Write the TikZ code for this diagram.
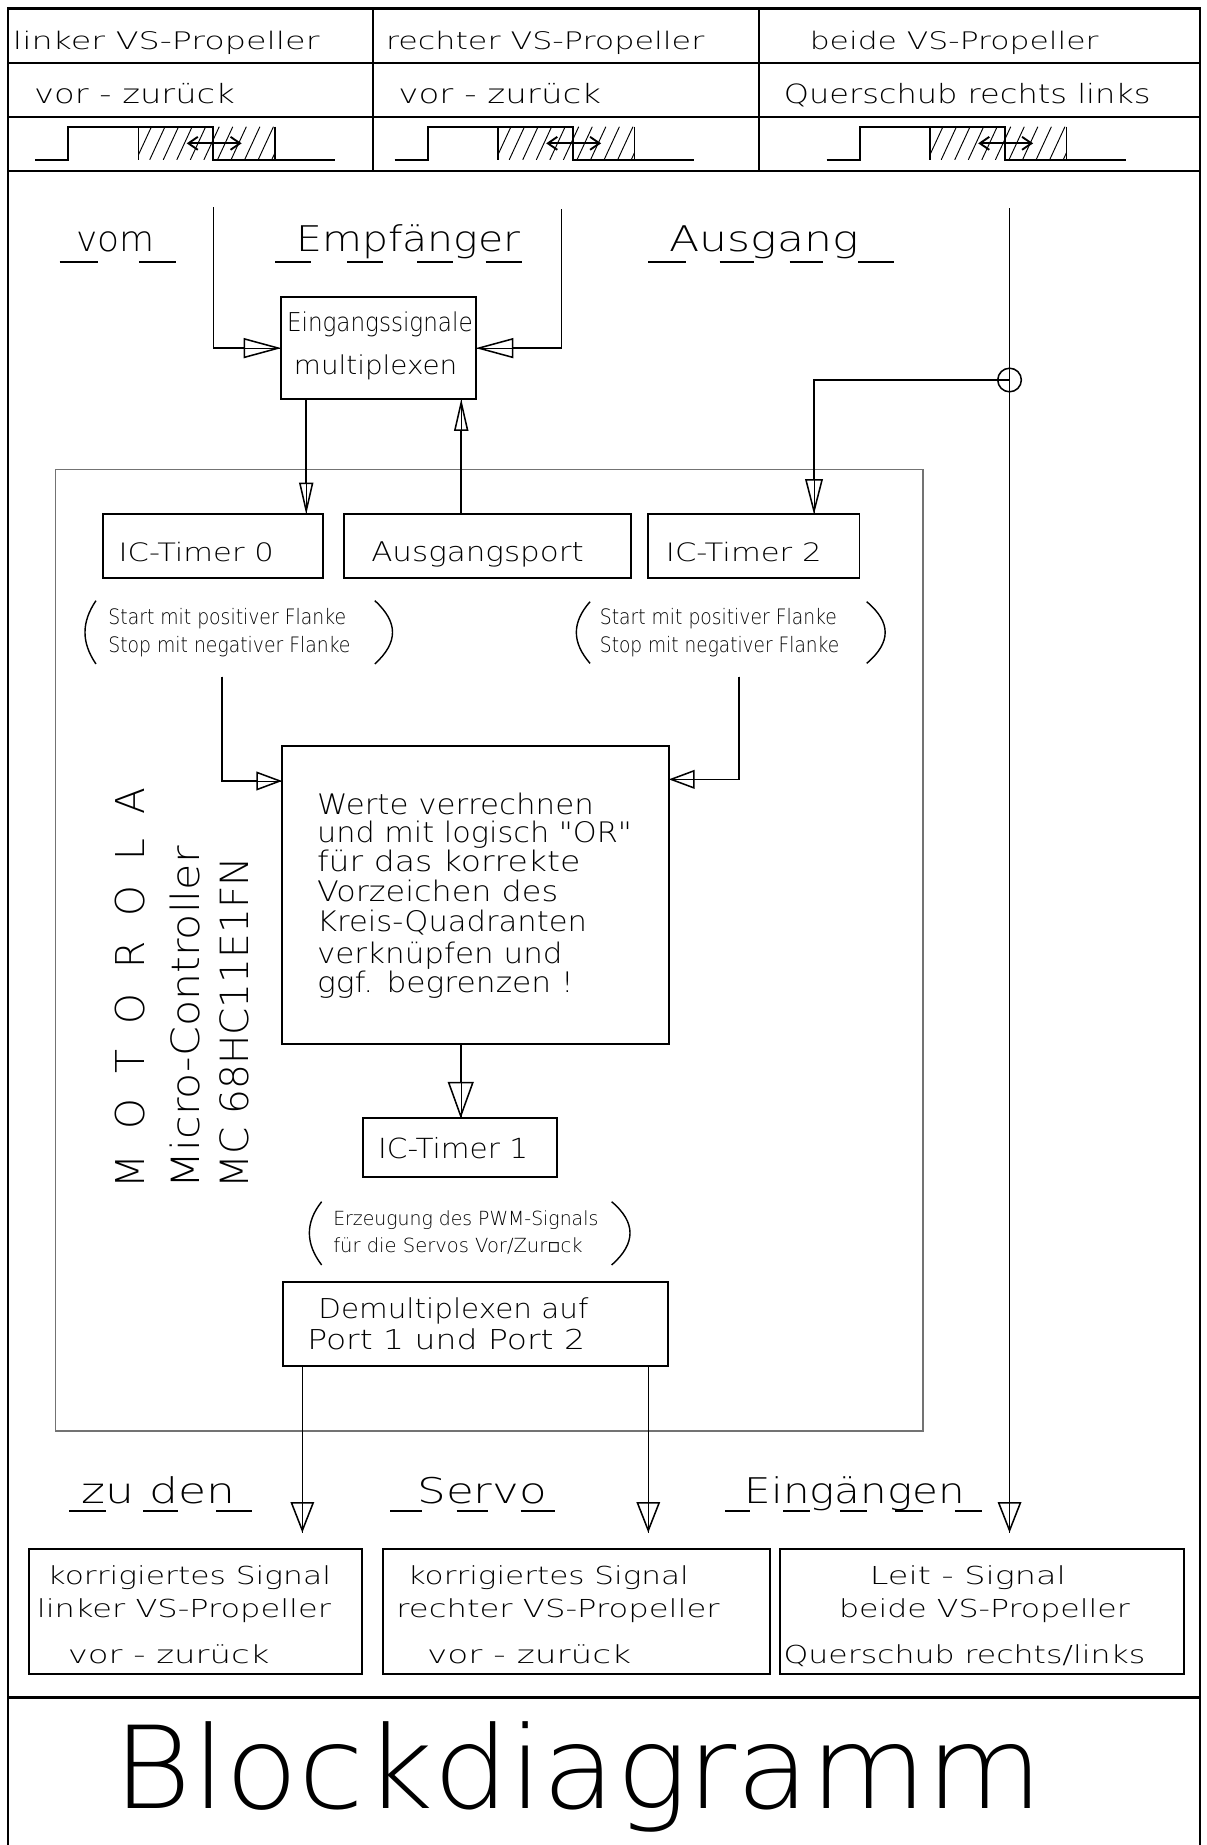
\documentclass[tikz,border=0pt]{standalone}
\usepackage{fontspec}
\usepackage{graphicx}
\usetikzlibrary{arrows.meta,calc}
\IfFontExistsTF{DejaVuSans-ExtraLight.ttf}{\newfontfamily\cad{DejaVuSans-ExtraLight.ttf}}{\newfontfamily\cad{DejaVu Sans}}
\newfontfamily\dvs{DejaVu Sans}
\newcommand\fitw[3]{\resizebox{#1pt}{\height}{\cad\fontsize{#2pt}{#2pt}\selectfont #3}}
\newcommand\tl[6]{\pgfmathsetmacro\tlw{#4-#2}\node[lbl] (#1) at (#2,#3) {\fitw{\tlw}{#5}{#6}};}
\tikzset{
  lbl/.style={anchor=base west, inner sep=0pt, outer sep=0pt},
  frame/.style={line width=2pt},
  box/.style={draw, rectangle, line width=1.6pt, inner sep=0pt, outer sep=0pt},
  conn/.style={line width=1.3pt},
  ul/.style={line width=1.5pt},
  paren/.style={line width=1.2pt},
  hatch/.style={line width=0.8pt},
  pulse/.style={line width=1.8pt},
  darr/.style={line width=1.6pt, {Straight Barb[length=8pt,width=11pt]}-{Straight Barb[length=8pt,width=11pt]}},
  arrA/.style={conn, preaction={draw, arrows=-}, -{Triangle[open, length=32pt, width=17pt]}},
  arrB/.style={conn, preaction={draw, arrows=-}, -{Triangle[open, length=27pt, width=12pt]}},
  arrC/.style={conn, preaction={draw, arrows=-}, -{Triangle[open, length=22pt, width=16pt]}},
  arrT/.style={conn, preaction={draw, arrows=-}, -{Triangle[open, length=30pt, width=15pt]}},
  arrD/.style={conn, preaction={draw, arrows=-}, -{Triangle[open, length=31pt, width=22pt]}},
  arrE/.style={conn, preaction={draw, arrows=-}, -{Triangle[open, length=26pt, width=20pt]}},
}
\begin{document}
\begin{tikzpicture}[x=1pt, y=-1pt]
\useasboundingbox (0,0) rectangle (1024,1565.3);
\fill[white] (0,0) rectangle (1024,1565.3);

% ---------- frame and header table ----------
\draw[frame] (7,1566) -- (7,7.3) -- (1018,7.3) -- (1018,1566);
\draw[frame] (7,53.2) -- (1018,53.2);
\draw[frame] (7,99) -- (1018,99);
\draw[frame] (7,145.3) -- (1018,145.3);
\draw[frame] (7,1440) -- (1018,1440);
\draw[frame] (316.7,7.3) -- (316.7,145.3);
\draw[frame] (644,7.3) -- (644,145.3);

\tl{h1a}{11}{42}{271}{20.5}{linker VS-Propeller}
\tl{h1b}{327.5}{42}{597.5}{20.5}{rechter VS-Propeller}
\tl{h1c}{687}{42}{932}{20.5}{beide VS-Propeller}
\tl{h2a}{29}{88}{199.2}{22.5}{vor - zurück}
\tl{h2b}{338}{88}{510}{22.5}{vor - zurück}
\tl{h2c}{665}{88}{976.2}{22.5}{Querschub rechts links}

% signal pictograms
\foreach \dx in {0,305,671.5}{
  \begin{scope}[xshift=\dx pt]
    \begin{scope}
      \clip (117.4,107.5) rectangle (233.3,135.6);
      \foreach \k in {0,...,11}{\draw[hatch] (104+\k*11.5,135.6) -- ++(13,-28.1);}
    \end{scope}
    \draw[line width=1.1pt] (117.4,107.5) -- (117.4,135.6);
    \draw[line width=1.1pt] (233.3,107.5) -- (233.3,135.6);
    \draw[pulse] (29.7,135.6) -- (58,135.6) -- (58,107.5) -- (181,107.5) -- (181,135.6) -- (284.2,135.6);
    \draw[darr] (158.4,121.6) -- (205,121.6);
  \end{scope}
}

% ---------- labels with underline segments ----------
\tl{lvom}{65}{213.5}{131.5}{30}{vom}
\tl{lemp}{251.6}{213.5}{441.6}{30}{Empfänger}
\tl{laus}{567.8}{213}{728.5}{30}{Ausgang}
\foreach \a/\b in {50.6/83.5,117.9/149.2,233.7/264,294.4/324.7,354/384,412/442.6,550/581.7,610.5/640,670/698,728/758.7}
  {\draw[ul] (\a,222) -- (\b,222);}
\tl{lzu}{69.3}{1275.5}{199.4}{30}{zu den}
\tl{lser}{354}{1275.5}{464}{30}{Servo}
\tl{lein}{632}{1275.5}{818.7}{30}{Eingängen}
\foreach \a/\b in {58.8/90,121.6/151.3,183.3/214,331/357.7,387.4/414,441.7/470.9,615.1/636.1,664.6/687.2,712.7/735.3,759.4/783.3,810.2/832.8}
  {\draw[ul] (\a,1281.6) -- (\b,1281.6);}

% ---------- micro-controller frame ----------
\node[draw=black!55, line width=1pt, rectangle, inner sep=0pt, minimum width=736pt, minimum height=815.8pt] (mcu) at (415,806.1) {};
\node[lbl, rotate=90] (moto) at (123,1008) {\fitw{340}{33.7}{M\ \ O\ \ T\ \ O\ \ R\ \ O\ \ L\ \ A}};
\node[lbl, rotate=90] (mcname) at (169,1008) {\fitw{290}{33}{Micro-Controller}};
\node[lbl, rotate=90] (mctype) at (211,1008) {\fitw{281}{33}{MC 68HC11E1FN}};

% ---------- boxes ----------
\node[box, minimum width=164.9pt, minimum height=86.3pt] (mux) at (321.15,295.35) {};
\node[box, minimum width=186.7pt, minimum height=54.2pt] (t0) at (181.05,463.5) {};
\node[box, minimum width=242.8pt, minimum height=54.2pt] (port) at (413.6,463.5) {};
\node[box, minimum width=179.6pt, minimum height=54.2pt] (t2) at (639.4,463.5) {};
\node[box, minimum width=328pt, minimum height=253pt] (werte) at (403.4,759.5) {};
\node[box, minimum width=164pt, minimum height=49.5pt] (t1) at (390.3,973.55) {};
\node[box, minimum width=326.6pt, minimum height=71.7pt] (demux) at (403.5,1123.15) {};
\node[box, minimum width=282.1pt, minimum height=106.3pt] (out1) at (165.85,1367.35) {};
\node[box, minimum width=327.8pt, minimum height=106.3pt] (out2) at (489.1,1367.35) {};
\node[box, minimum width=342.8pt, minimum height=106.3pt] (out3) at (832.9,1367.35) {};

\tl{tmux1}{243.5}{281.4}{401}{22}{Eingangssignale}
\tl{tmux2}{249.4}{317.3}{388}{22}{multiplexen}
\tl{tt0}{100.7}{476.5}{232.2}{21.5}{IC-Timer 0}
\tl{tport}{315}{476.5}{495.2}{23}{Ausgangsport}
\tl{tt2}{565}{476.5}{697}{21.5}{IC-Timer 2}
\tl{nl1}{92}{530}{293.6}{18}{Start mit positiver Flanke}
\tl{nl2}{92}{553.4}{297.4}{18}{Stop mit negativer Flanke}
\tl{nr1}{509}{530}{710}{18}{Start mit positiver Flanke}
\tl{nr2}{509}{553.2}{712}{18}{Stop mit negativer Flanke}
\tl{w1}{269}{690.6}{503.8}{24}{Werte verrechnen}
\tl{w2}{269}{714.9}{536}{24}{und mit logisch "OR"}
\tl{w3}{269}{739.5}{492.4}{24}{für das korrekte}
\tl{w4}{269}{765}{473.5}{24}{Vorzeichen des}
\tl{w5}{269}{790.4}{498}{24}{Kreis-Quadranten}
\tl{w6}{269}{817.3}{477.3}{24}{verknüpfen und}
\tl{w7}{269}{842}{486.8}{24}{ggf. begrenzen !}
\tl{tt1}{320.9}{982.7}{448}{23.5}{IC-Timer 1}
\tl{pwm1}{282.8}{1039.8}{507.6}{16.5}{Erzeugung des PWM-Signals}
\tl{pwm2}{282.8}{1062.5}{494.3}{16.5}{für die Servos Vor/Zur{\dvs ▫}ck}
\tl{dm1}{270.1}{1118.4}{499.2}{23.2}{Demultiplexen auf}
\tl{dm2}{260.7}{1145.3}{496.3}{23.2}{Port 1 und Port 2}
\tl{o1a}{40.5}{1343.9}{280.8}{21}{korrigiertes Signal}
\tl{o1b}{31.3}{1372.2}{280.8}{21}{linker VS-Propeller}
\tl{o1c}{57.5}{1411.2}{228.6}{21}{vor - zurück}
\tl{o2a}{346}{1343.9}{584.4}{21}{korrigiertes Signal}
\tl{o2b}{336.3}{1372.2}{610.6}{21}{rechter VS-Propeller}
\tl{o2c}{362.4}{1411.2}{535.5}{21}{vor - zurück}
\tl{o3a}{738}{1343.9}{904.4}{21}{Leit - Signal}
\tl{o3b}{711.8}{1372.2}{958.6}{21}{beide VS-Propeller}
\tl{o3c}{664.8}{1411.2}{971.7}{21}{Querschub rechts/links}
\tl{title}{96.6}{1534.2}{884.8}{97}{Blockdiagramm}

% parentheses round the notes
\draw[paren] (81.4,509.6) .. controls (69,528) and (69,545) .. (81.4,563.3);
\draw[paren] (318,509.6) .. controls (338,528) and (338,545) .. (318,563.3);
\draw[paren] (500.6,510.5) .. controls (485.1,528) and (485.1,545) .. (500.6,562.8);
\draw[paren] (735.3,510.5) .. controls (756.2,528) and (756.2,545) .. (735.3,562.8);
\draw[paren] (272.9,1019.5) .. controls (259,1037) and (259,1055) .. (272.9,1073.2);
\draw[paren] (518.9,1019.5) .. controls (539.7,1037) and (539.7,1055) .. (518.9,1073.2);

% ---------- connectors ----------
\coordinate (inL) at (181,176);
\coordinate (inR) at (476.3,177.6);
\coordinate (c1) at (259.8,0);
\coordinate (c2) at (391.3,0);
\coordinate (c3) at (690.6,0);
\coordinate (c4) at (390.9,0);
\coordinate (c5) at (256.5,0);
\coordinate (rTop) at (856.5,176.8);
\coordinate (rTip) at (856.5,1300.3);
\coordinate (tip1) at (256.5,1300.3);
\coordinate (tip2) at (550,1300.3);
\coordinate (nL) at (188.3,574);
\coordinate (nR) at (627,574);
\node[draw, circle, line width=1.3pt, minimum size=20pt, inner sep=0pt] (jn) at (856.5,322.4) {};

\draw[arrA] (inL) |- (mux.west);
\draw[arrA] (inR) |- (mux.east);
\draw[arrB] (mux.south -| c1) -- (t0.north -| c1);
\draw[arrB] (port.north -| c2) -- (mux.south -| c2);
\draw[arrE] (rTop) -- (rTip);
\draw[arrT] (jn.center) -| (t2.north -| c3);
\draw[arrC] (nL) |- ($(werte.north west)+(0,29.6)$);
\draw[arrC] (nR) |- ($(werte.north east)+(0,28.2)$);
\draw[arrD] (werte.south -| c4) -- (t1.north -| c4);
\draw[arrE] (demux.south -| c5) -- (tip1);
\draw[arrE] (demux.south -| tip2) -- (tip2);
\end{tikzpicture}
\end{document}
